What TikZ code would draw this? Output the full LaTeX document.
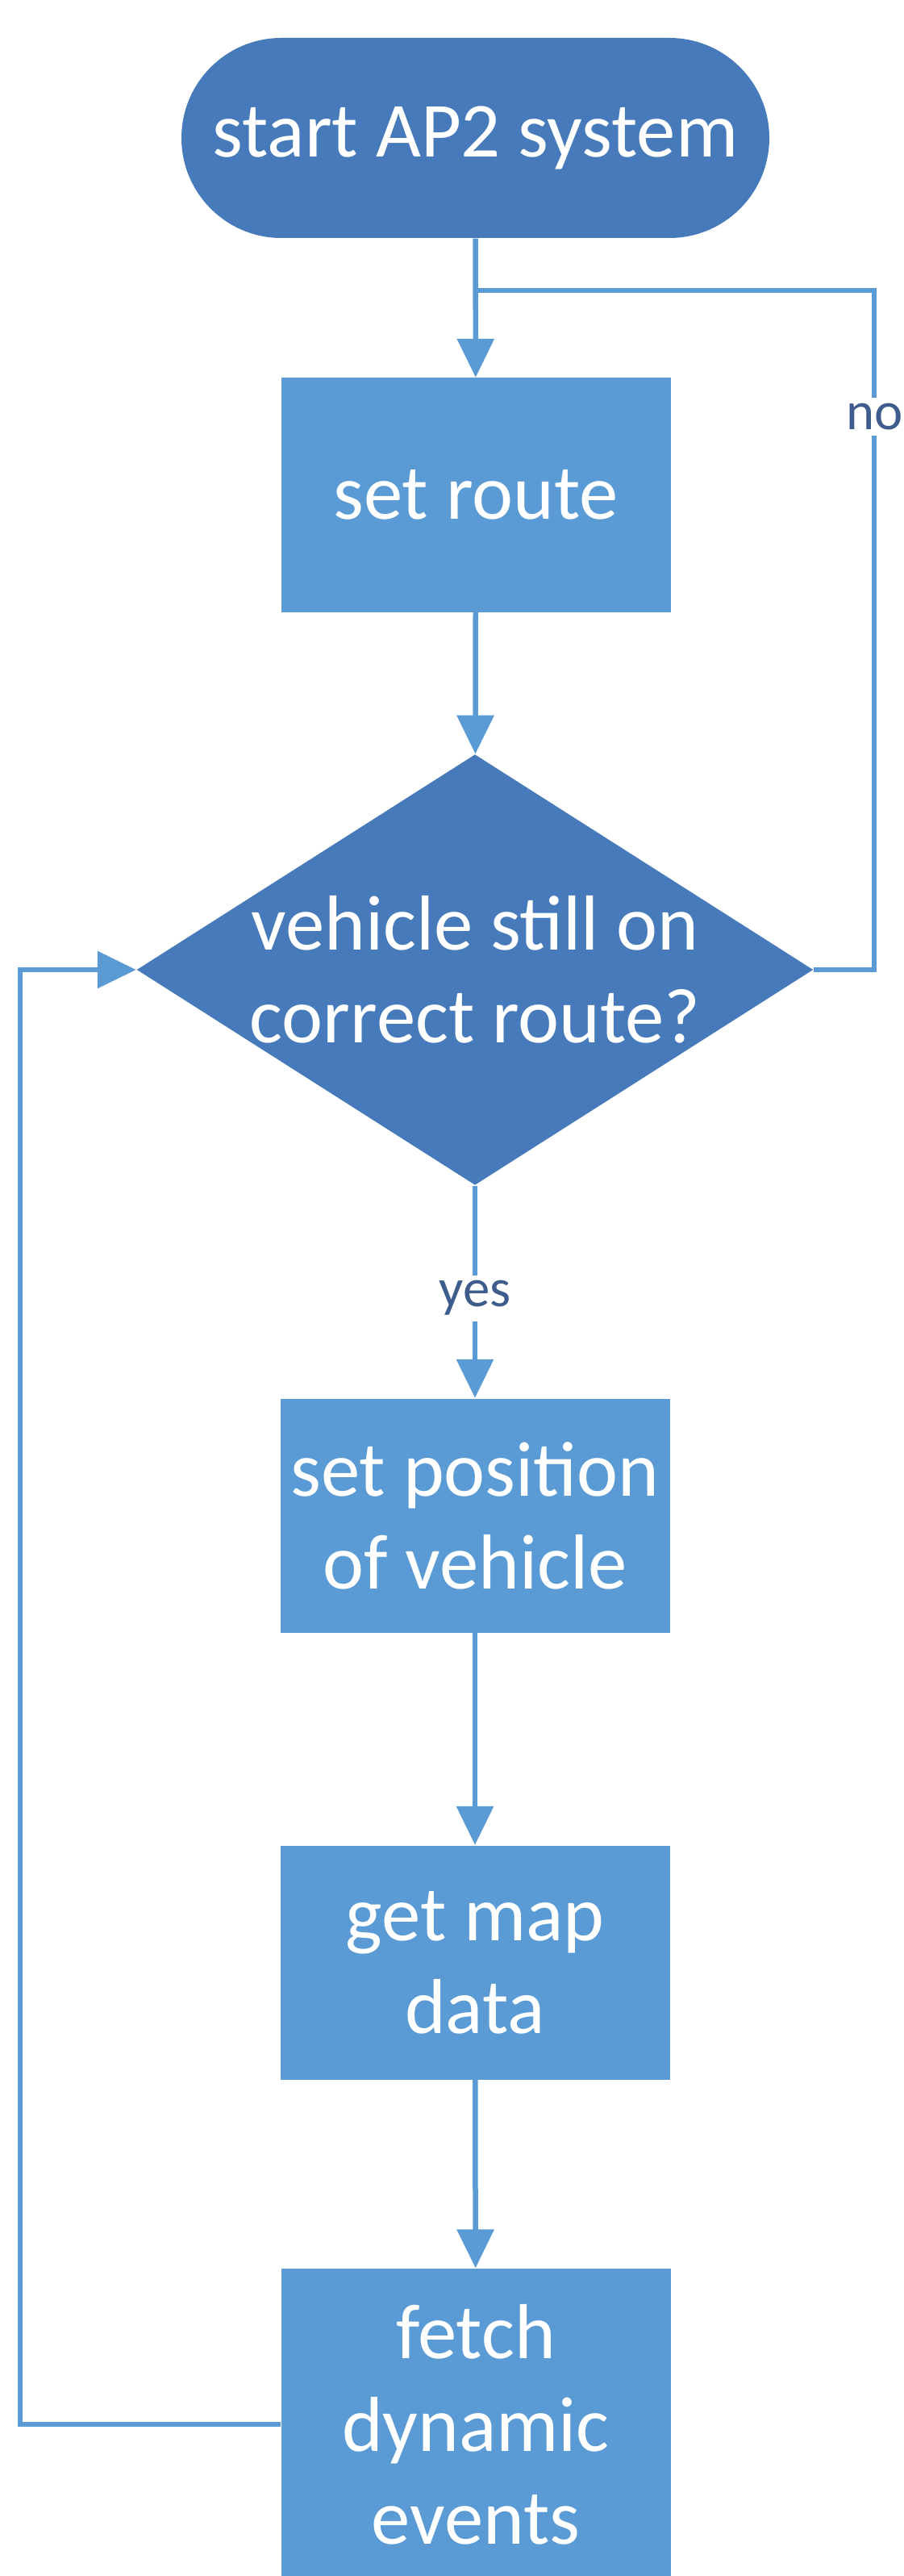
\documentclass[tikz,border=0pt]{standalone}
\usepackage{fontspec}
\setmainfont{Carlito}
\usetikzlibrary{arrows.meta,shapes.geometric}

\definecolor{flowdark}{RGB}{70,122,186}
\definecolor{flowlight}{RGB}{91,155,213}
\definecolor{flowtext}{RGB}{62,92,140}

\tikzset{
    boxtext/.style={text=white, font=\fontsize{27.5}{32.7}\selectfont, align=center},
    terminal/.style={boxtext, fill=flowdark, rounded corners=1.24cm,
        minimum width=7.29cm, minimum height=2.48cm},
    process/.style={boxtext, fill=flowlight, minimum width=4.83cm, minimum height=2.9cm},
    decision/.style={boxtext, fill=flowdark, diamond, aspect=1.571, inner sep=-0.3cm,
        minimum width=8.39cm, minimum height=5.34cm},
    flow/.style={draw=flowlight, line width=0.065cm},
    arrow/.style={flow, -{Triangle[length=0.48cm,width=0.45cm]}},
    lbl/.style={fill=white, text=flowtext, inner sep=2pt, font=\fontsize{19}{22}\selectfont}
}

\begin{document}
\begin{tikzpicture}
\useasboundingbox (0,0) rectangle (11.2,-31.93);

\node[terminal] (start) at (5.895,-1.71) {start AP2 system};
\node[process] (route) at (5.9,-6.135) {set route};
\node[decision] (check) at (5.89,-12.02) {vehicle still on\\correct route?};
\node[process] (pos) at (5.89,-18.785) {set position\\of vehicle};
\node[process] (map) at (5.89,-24.325) {get map\\data};
\node[process, minimum height=3.86cm] (fetch) at (5.9,-30.05) {fetch\\dynamic\\events};

\coordinate (join) at (5.89,-3.60);

\draw[arrow] (start) -- (route);
\draw[arrow] (route) -- (check);
\draw[flow] (check.east) -- ++(0.75,0) |- node[lbl, pos=0.407] {no} (join);
\draw[arrow] (check) -- node[lbl, pos=0.53] {yes} (pos);
\draw[arrow] (pos) -- (map);
\draw[arrow] (map) -- (fetch);
\draw[arrow] (fetch.west) -- ++(-3.23,0) |- (check.west);

\end{tikzpicture}
\end{document}
